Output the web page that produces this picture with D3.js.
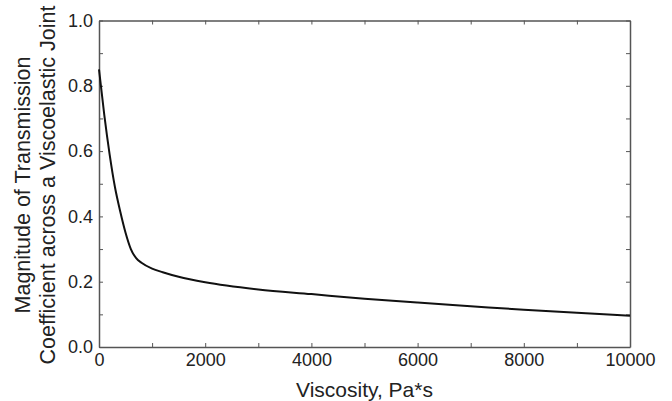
<!DOCTYPE html>
<html>
<head>
<meta charset="utf-8">
<script src="https://cdn.jsdelivr.net/npm/d3@7"></script>
<style>
  body { margin: 0; background: #fff; }
  text { font-family: "Liberation Sans", Arial, sans-serif; fill: #222; }
</style>
</head>
<body>
<svg id="chart"></svg>
<script>
// viscosity (Pa*s) and transmission magnitude
let viscosity = [0, 100, 200, 300, 400, 500, 600, 700, 800, 1000, 1200, 1500,
  2000, 3000, 4000, 5000, 6000, 7000, 8000, 9000, 10000];
let magnitude = [0.85, 0.71, 0.59, 0.49, 0.415, 0.35, 0.30, 0.272, 0.258, 0.240, 0.229, 0.215,
  0.198, 0.176, 0.162, 0.148, 0.136, 0.125, 0.114, 0.105, 0.096];

let xTicks = [0, 2000, 4000, 6000, 8000, 10000];
let yTicks = [0, 0.2, 0.4, 0.6, 0.8, 1.0];
let xMinor = [1000, 3000, 5000, 7000, 9000];
let yMinor = [0.1, 0.3, 0.5, 0.7, 0.9];

let w = 672, h = 401;
// plot box edges (not "top", that one is taken by window.top)
let padLeft = 99, padRight = 630, padTop = 20.5, padBottom = 347;

let chart = d3.select('#chart').attr('width', w).attr('height', h);

let xScale = d3.scaleLinear().domain([0, 10000]).range([padLeft, padRight]);
let yScale = d3.scaleLinear().domain([0, 1]).range([padBottom, padTop]);

let axisColor = '#555';

// ticks on all four sides, pointing inward
function drawAxis(axis, tx, ty, vals, labels) {
  let g = chart.append('g')
    .attr('transform', `translate(${tx},${ty})`)
    .call(axis.tickValues(vals).tickSizeOuter(0).tickSizeInner(-4).tickPadding(6)
      .tickFormat(labels ? labels : () => ''));
  g.select('.domain').attr('stroke', axisColor).attr('stroke-width', 1.5);
  g.selectAll('.tick line').attr('stroke', axisColor).attr('stroke-width', 1);
  g.selectAll('.tick text').style('font-size', '18px').attr('fill', '#222');
  return g;
}

drawAxis(d3.axisBottom(xScale), 0, padBottom, xTicks.concat(xMinor),
  (d) => xTicks.includes(d) ? d3.format('d')(d) : '');
drawAxis(d3.axisTop(xScale), 0, padTop, xTicks.concat(xMinor));
drawAxis(d3.axisLeft(yScale), padLeft, 0, yTicks.concat(yMinor),
  (d) => yTicks.some((t) => Math.abs(t - d) < 1e-9) ? d3.format('.1f')(d) : '');
drawAxis(d3.axisRight(yScale), padRight, 0, yTicks.concat(yMinor));

// the curve
let line = d3.line()
  .x((d, i) => xScale(viscosity[i]))
  .y((d) => yScale(d))
  .curve(d3.curveMonotoneX);

chart.append('path')
  .datum(magnitude)
  .attr('d', line)
  .attr('fill', 'none')
  .attr('stroke', '#111')
  .attr('stroke-width', 2);

// axis titles
chart.append('text')
  .attr('x', (padLeft + padRight) / 2)
  .attr('y', 397)
  .attr('text-anchor', 'middle')
  .style('font-size', '21px')
  .text('Viscosity, Pa*s');

let yTitle = chart.append('text')
  .attr('transform', `translate(30, 185) rotate(-90)`)
  .attr('text-anchor', 'middle')
  .style('font-size', '21.5px');
yTitle.append('tspan').attr('x', 0).attr('dy', 0).text('Magnitude of Transmission');
yTitle.append('tspan').attr('x', 0).attr('dy', 25).text('Coefficient across a Viscoelastic Joint');
</script>
</body>
</html>
